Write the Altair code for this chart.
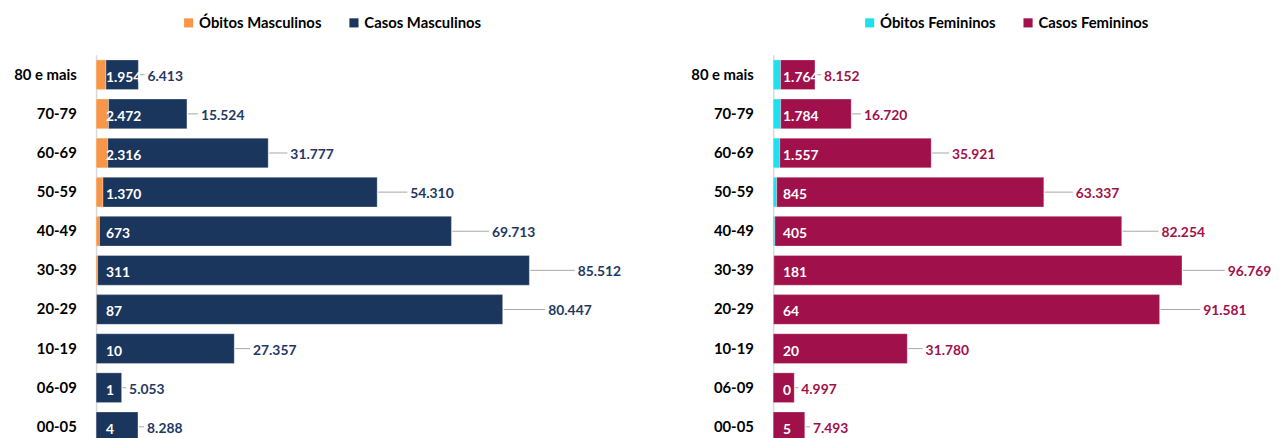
import altair as alt
import pandas as pd

faixas = ["80 e mais", "70-79", "60-69", "50-59", "40-49", "30-39", "20-29", "10-19", "06-09", "00-05"]
obitos_masc = [1954, 2472, 2316, 1370, 673, 311, 87, 10, 1, 4]
casos_masc = [6413, 15524, 31777, 54310, 69713, 85512, 80447, 27357, 5053, 8288]
obitos_fem = [1764, 1784, 1557, 845, 405, 181, 64, 20, 0, 5]
casos_fem = [8152, 16720, 35921, 63337, 82254, 96769, 91581, 31780, 4997, 7493]

FONT = "Lato"


def panel(obitos, casos, nome_obitos, nome_casos, cor_obitos, cor_casos, cor_texto,
          largura, legenda_x):
    df = pd.DataFrame({"faixa": faixas, "obitos": obitos, "casos": casos})
    base = alt.Chart(df).transform_calculate(
        total="datum.obitos + datum.casos",
        rotulo_x="(datum.obitos + datum.casos) * 1.1",
        casos_txt="replace(format(datum.casos, ','), ',', '.')",
        obitos_txt="replace(format(datum.obitos, ','), ',', '.')",
    )
    y = alt.Y(
        "faixa:N", sort=faixas, title=None,
        scale=alt.Scale(paddingInner=0.24, paddingOuter=0.13),
        axis=alt.Axis(ticks=False, labelFont=FONT, labelFontSize=15, labelFontWeight="bold",
                      labelColor="#000000", labelPadding=20, domainColor="#d9d9d9",
                      domainWidth=1.5, labelAlign="right"),
    )
    xscale = alt.Scale(domain=[0, 100000], nice=False)
    cor = alt.Color(
        "serie:N",
        scale=alt.Scale(domain=[nome_obitos, nome_casos], range=[cor_obitos, cor_casos]),
        legend=alt.Legend(orient="none", direction="horizontal", title=None,
                          legendX=legenda_x, legendY=-40, columnPadding=25,
                          labelFont=FONT, labelFontSize=15, labelFontWeight="bold",
                          labelColor="#000000", symbolType="square", symbolSize=85,
                          symbolStrokeWidth=0, labelOffset=3),
    )
    barras_ob = base.transform_calculate(serie=f"'{nome_obitos}'").mark_bar(
        stroke="#ffffff", strokeWidth=0.5, strokeOpacity=0.6
    ).encode(
        x=alt.X("obitos:Q", scale=xscale, axis=None, stack=None),
        y=y, color=cor,
    )
    barras_ca = base.transform_calculate(serie=f"'{nome_casos}'").mark_bar(
        stroke="#ffffff", strokeWidth=0.5, strokeOpacity=0.6
    ).encode(
        x=alt.X("obitos:Q", scale=xscale, axis=None, stack=None),
        x2="total:Q",
        y=y, color=cor,
    )
    linha = base.mark_rule(color="#a6a6a6", strokeWidth=1, xOffset=1, x2Offset=2).encode(
        x=alt.X("total:Q", scale=xscale, axis=None), x2="rotulo_x:Q", y=y,
    )
    txt_casos = base.mark_text(align="left", baseline="middle", dx=5, dy=2, font=FONT,
                               fontSize=14, fontWeight="bold", color=cor_texto).encode(
        x=alt.X("rotulo_x:Q", scale=xscale, axis=None), y=y, text="casos_txt:N",
    )
    txt_obitos = base.mark_text(align="left", baseline="middle", dx=10, dy=3, font=FONT,
                                fontSize=14, fontWeight="bold", color="#ffffff").encode(
        x=alt.X("zero:Q", scale=xscale, axis=None), y=y, text="obitos_txt:N",
    ).transform_calculate(zero="0")
    return alt.layer(barras_ob, barras_ca, linha, txt_casos, txt_obitos).properties(
        width=largura, height=396
    )


esq = panel(obitos_masc, casos_masc, "Óbitos Masculinos", "Casos Masculinos",
            "#F79646", "#1B365D", "#1F3864", 510, 86)
dir_ = panel(obitos_fem, casos_fem, "Óbitos Femininos", "Casos Femininos",
             "#1EE1F0", "#A0104A", "#A0104A", 426, 90)

chart = alt.hconcat(esq, dir_, spacing=69).resolve_scale(
    color="independent", x="independent", y="independent"
).properties(
    padding={"left": 5, "top": 5, "right": 5, "bottom": 5}, background="#ffffff"
).configure_view(strokeWidth=0, stroke="transparent")

chart.save("out.html", embed_options={"renderer": "svg", "actions": False})
